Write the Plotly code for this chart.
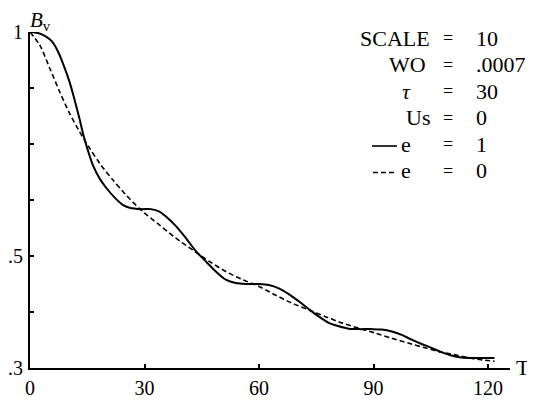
import plotly.graph_objects as go

# Values (y in the picture's own linear axis units:
# bottom of axis = .3, top = 1)
T_solid = [0.0, 2.5, 4.3, 5.7, 7.3, 9.0, 10.4, 11.7, 13.0, 14.0, 15.3, 16.5,
           18.3, 20.0, 22.2, 24.3, 26.1, 29.1, 31.7, 33.9, 35.7, 38.3, 40.9,
           43.5, 46.1, 48.7, 51.3, 53.9, 56.5, 60.0, 62.6, 65.2, 67.8, 70.4,
           73.0, 75.7, 78.3, 80.9, 83.5, 86.1, 89.6, 92.2, 94.8, 97.4, 100.0,
           102.6, 105.2, 107.8, 110.4, 113.0, 116.5, 121.7]
B_solid = [1.000, 0.997, 0.990, 0.981, 0.960, 0.927, 0.895, 0.858, 0.818, 0.785,
           0.750, 0.722, 0.694, 0.675, 0.655, 0.640, 0.634, 0.631, 0.631, 0.626,
           0.615, 0.595, 0.570, 0.543, 0.522, 0.501, 0.484, 0.477, 0.475, 0.475,
           0.473, 0.466, 0.454, 0.439, 0.423, 0.407, 0.394, 0.387, 0.382, 0.381,
           0.381, 0.380, 0.376, 0.369, 0.359, 0.350, 0.342, 0.333, 0.326, 0.322,
           0.321, 0.321]

T_dashed = [0.0, 2.6, 5.2, 7.8, 10.4, 13.0, 15.7, 18.3, 21.7, 25.2, 29.1, 33.9,
            38.3, 42.6, 47.0, 51.3, 55.7, 60.0, 64.3, 68.7, 73.0, 77.4, 81.7,
            86.1, 90.4, 94.8, 99.1, 103.5, 107.8, 112.2, 116.5, 121.7]
B_dashed = [1.000, 0.972, 0.924, 0.875, 0.830, 0.792, 0.757, 0.726, 0.692, 0.660,
            0.629, 0.598, 0.570, 0.546, 0.522, 0.501, 0.484, 0.470, 0.452, 0.435,
            0.421, 0.407, 0.394, 0.383, 0.373, 0.362, 0.352, 0.342, 0.333, 0.326,
            0.319, 0.314]

x_ticks = [0, 30, 60, 90, 120]
y_step = 0.7 / 6
y_label_vals = [0.3, 0.3 + 2 * y_step, 1.0]
y_label_text = [".3", ".5", "1"]
y_minor_vals = [0.3 + k * y_step for k in (1, 3, 4, 5)]

legend_names = ["SCALE", "WO", "<i>τ</i>", "Us", "e", "e"]
legend_values = ["10", ".0007", "30", "0", "1", "0"]

# The page body adds an 8 px offset; lay out in page pixels and compensate.
OFF = 8
X0_PAGE, X120_PAGE, XEND_PAGE = 30, 488, 510
W, H = 535 - OFF, 400 - OFF
ML, MT = X0_PAGE - OFF, 32 - OFF
MR = W - (XEND_PAGE - OFF)
MB = H - (368 - OFF)
PW, PH = W - ML - MR, H - MT - MB
FONT = "Liberation Serif, Times New Roman, serif"


def px(x):
    return (x - OFF - ML) / PW


def py(y):
    return (H - MB - (y - OFF)) / PH


fig = go.Figure()
fig.add_trace(go.Scatter(x=T_solid, y=B_solid, mode="lines",
                         line=dict(color="black", width=2, shape="spline", smoothing=0.8),
                         cliponaxis=False, showlegend=False))
fig.add_trace(go.Scatter(x=T_dashed, y=B_dashed, mode="lines",
                         line=dict(color="black", width=1.6, dash="5px,3px",
                                   shape="spline", smoothing=0.8),
                         cliponaxis=False, showlegend=False))


def note(text, x, y, xanchor="center", size=22):
    return dict(x=px(x), y=py(y), xref="paper", yref="paper", text=text,
                xanchor=xanchor, yanchor="middle", showarrow=False,
                font=dict(family=FONT, size=size, color="black"))


annotations = [
    note("<i>B</i><sub>v</sub>", 40, 21, size=21),
    note("T", 523, 367),
]

row_y = [38, 64.5, 91, 117.5, 144, 170.5]
name_right = [432, 428, 413, 432, 413, 413]
for name, val, yy, xr in zip(legend_names, legend_values, row_y, name_right):
    annotations.append(note(name, xr, yy, xanchor="right"))
    annotations.append(note("=", 448, yy, size=18))
    annotations.append(note(val, 474, yy, xanchor="left"))

shapes = [
    dict(type="line", xref="paper", yref="paper", x0=px(372), x1=px(397),
         y0=py(row_y[4] + 2), y1=py(row_y[4] + 2), line=dict(color="black", width=1.6)),
    dict(type="line", xref="paper", yref="paper", x0=px(373), x1=px(397),
         y0=py(row_y[5] + 2), y1=py(row_y[5] + 2),
         line=dict(color="black", width=1.4, dash="5px,3px")),
]

tick_style = dict(ticks="inside", ticklen=4, tickcolor="black", tickwidth=2)
px_per_T = (X120_PAGE - X0_PAGE) / 120

fig.update_layout(
    width=W, height=H,
    margin=dict(l=ML, r=MR, t=MT, b=MB, pad=0, autoexpand=False),
    paper_bgcolor="white", plot_bgcolor="white",
    font=dict(family=FONT, size=20, color="black"),
    annotations=annotations, shapes=shapes,
    xaxis=dict(range=[0, PW / px_per_T], tickvals=x_ticks,
               ticktext=[str(t) for t in x_ticks], automargin=False,
               showline=True, linecolor="black", linewidth=2,
               showgrid=False, zeroline=False, fixedrange=True,
               ticklabelstandoff=1,
               tickfont=dict(family=FONT, size=20), **tick_style),
    yaxis=dict(range=[0.3, 1.0], tickvals=y_label_vals, ticktext=y_label_text,
               automargin=False,
               showline=True, linecolor="black", linewidth=2,
               showgrid=False, zeroline=False, fixedrange=True,
               ticklabelstandoff=1,
               tickfont=dict(family=FONT, size=20),
               minor=dict(tickvals=y_minor_vals, showgrid=False, **tick_style),
               **tick_style),
)

fig.write_html("out.html")
